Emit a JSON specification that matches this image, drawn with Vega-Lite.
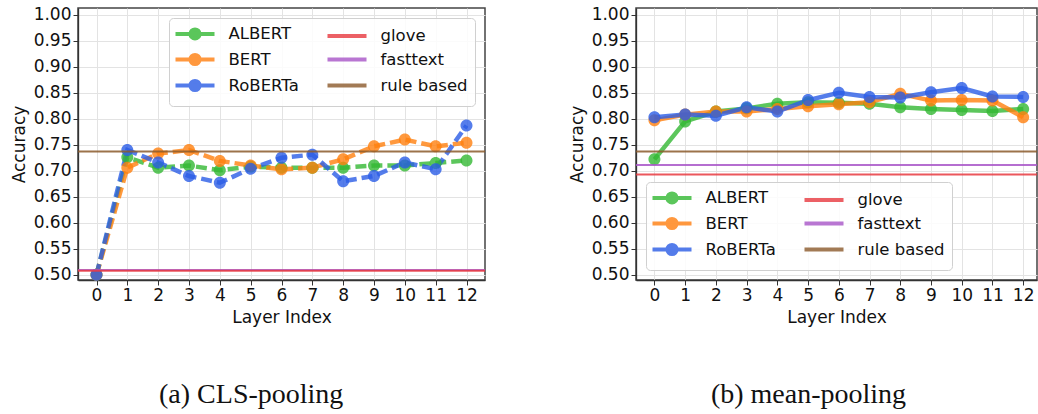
{
  "$schema": "https://vega.github.io/schema/vega-lite/v6.json",
  "padding": {"left": 9, "top": 5, "right": 0, "bottom": 0},
  "spacing": 74,
  "datasets": {
    "cls": [
      {"layer": 0, "model": "ALBERT", "acc": 0.500}, {"layer": 1, "model": "ALBERT", "acc": 0.726}, {"layer": 2, "model": "ALBERT", "acc": 0.706}, {"layer": 3, "model": "ALBERT", "acc": 0.710}, {"layer": 4, "model": "ALBERT", "acc": 0.701}, {"layer": 5, "model": "ALBERT", "acc": 0.708}, {"layer": 6, "model": "ALBERT", "acc": 0.706}, {"layer": 7, "model": "ALBERT", "acc": 0.706}, {"layer": 8, "model": "ALBERT", "acc": 0.706}, {"layer": 9, "model": "ALBERT", "acc": 0.710}, {"layer": 10, "model": "ALBERT", "acc": 0.710}, {"layer": 11, "model": "ALBERT", "acc": 0.715}, {"layer": 12, "model": "ALBERT", "acc": 0.720},
      {"layer": 0, "model": "BERT", "acc": 0.500}, {"layer": 1, "model": "BERT", "acc": 0.706}, {"layer": 2, "model": "BERT", "acc": 0.733}, {"layer": 3, "model": "BERT", "acc": 0.740}, {"layer": 4, "model": "BERT", "acc": 0.719}, {"layer": 5, "model": "BERT", "acc": 0.710}, {"layer": 6, "model": "BERT", "acc": 0.703}, {"layer": 7, "model": "BERT", "acc": 0.706}, {"layer": 8, "model": "BERT", "acc": 0.722}, {"layer": 9, "model": "BERT", "acc": 0.747}, {"layer": 10, "model": "BERT", "acc": 0.760}, {"layer": 11, "model": "BERT", "acc": 0.747}, {"layer": 12, "model": "BERT", "acc": 0.754},
      {"layer": 0, "model": "RoBERTa", "acc": 0.500}, {"layer": 1, "model": "RoBERTa", "acc": 0.740}, {"layer": 2, "model": "RoBERTa", "acc": 0.716}, {"layer": 3, "model": "RoBERTa", "acc": 0.690}, {"layer": 4, "model": "RoBERTa", "acc": 0.677}, {"layer": 5, "model": "RoBERTa", "acc": 0.704}, {"layer": 6, "model": "RoBERTa", "acc": 0.725}, {"layer": 7, "model": "RoBERTa", "acc": 0.731}, {"layer": 8, "model": "RoBERTa", "acc": 0.680}, {"layer": 9, "model": "RoBERTa", "acc": 0.690}, {"layer": 10, "model": "RoBERTa", "acc": 0.716}, {"layer": 11, "model": "RoBERTa", "acc": 0.703}, {"layer": 12, "model": "RoBERTa", "acc": 0.787}
    ],
    "mean": [
      {"layer": 0, "model": "ALBERT", "acc": 0.722}, {"layer": 1, "model": "ALBERT", "acc": 0.795}, {"layer": 2, "model": "ALBERT", "acc": 0.814}, {"layer": 3, "model": "ALBERT", "acc": 0.820}, {"layer": 4, "model": "ALBERT", "acc": 0.829}, {"layer": 5, "model": "ALBERT", "acc": 0.832}, {"layer": 6, "model": "ALBERT", "acc": 0.831}, {"layer": 7, "model": "ALBERT", "acc": 0.829}, {"layer": 8, "model": "ALBERT", "acc": 0.822}, {"layer": 9, "model": "ALBERT", "acc": 0.819}, {"layer": 10, "model": "ALBERT", "acc": 0.817}, {"layer": 11, "model": "ALBERT", "acc": 0.815}, {"layer": 12, "model": "ALBERT", "acc": 0.819},
      {"layer": 0, "model": "BERT", "acc": 0.797}, {"layer": 1, "model": "BERT", "acc": 0.808}, {"layer": 2, "model": "BERT", "acc": 0.814}, {"layer": 3, "model": "BERT", "acc": 0.814}, {"layer": 4, "model": "BERT", "acc": 0.819}, {"layer": 5, "model": "BERT", "acc": 0.824}, {"layer": 6, "model": "BERT", "acc": 0.828}, {"layer": 7, "model": "BERT", "acc": 0.832}, {"layer": 8, "model": "BERT", "acc": 0.848}, {"layer": 9, "model": "BERT", "acc": 0.835}, {"layer": 10, "model": "BERT", "acc": 0.836}, {"layer": 11, "model": "BERT", "acc": 0.835}, {"layer": 12, "model": "BERT", "acc": 0.803},
      {"layer": 0, "model": "RoBERTa", "acc": 0.803}, {"layer": 1, "model": "RoBERTa", "acc": 0.808}, {"layer": 2, "model": "RoBERTa", "acc": 0.806}, {"layer": 3, "model": "RoBERTa", "acc": 0.822}, {"layer": 4, "model": "RoBERTa", "acc": 0.814}, {"layer": 5, "model": "RoBERTa", "acc": 0.836}, {"layer": 6, "model": "RoBERTa", "acc": 0.850}, {"layer": 7, "model": "RoBERTa", "acc": 0.842}, {"layer": 8, "model": "RoBERTa", "acc": 0.841}, {"layer": 9, "model": "RoBERTa", "acc": 0.851}, {"layer": 10, "model": "RoBERTa", "acc": 0.859}, {"layer": 11, "model": "RoBERTa", "acc": 0.843}, {"layer": 12, "model": "RoBERTa", "acc": 0.842}
    ],
    "baseCls": [
      {"model": "fasttext", "acc": 0.509}, {"model": "glove", "acc": 0.508}, {"model": "rule based", "acc": 0.737}
    ],
    "baseMean": [
      {"model": "fasttext", "acc": 0.711}, {"model": "glove", "acc": 0.693}, {"model": "rule based", "acc": 0.737}
    ]
  },
  "config": {
    "font": "DejaVu Sans",
    "view": {"stroke": "#444", "strokeWidth": 1.5},
    "axis": {
      "labelFont": "DejaVu Sans", "labelFontSize": 17, "labelColor": "#111",
      "titleFont": "DejaVu Sans", "titleFontSize": 17, "titleFontWeight": "normal", "titleColor": "#111",
      "domainColor": "#333", "domainWidth": 1.3, "tickColor": "#333", "tickSize": 5, "tickWidth": 1,
      "labelPadding": 2, "gridColor": "#e3e3e3", "gridWidth": 1, "labelOverlap": false, "labelFlush": false
    },
    "axisY": {"titlePadding": 5},
    "axisX": {"titlePadding": 6},
    "legend": {
      "title": null, "columns": 2, "offset": 10,
      "symbolSize": 169, "symbolStrokeWidth": 4, "symbolOffset": 10.5, "labelOffset": 25,
      "labelFont": "DejaVu Sans", "labelFontSize": 16.5, "labelColor": "#111",
      "padding": 7, "rowPadding": -1, "columnPadding": 20,
      "fillColor": "rgba(255,255,255,0.85)", "strokeColor": "#d0d0d0", "cornerRadius": 4
    },
    "title": {"font": "Liberation Serif", "fontSize": 28, "fontWeight": "normal", "color": "#111"}
  },
  "resolve": {"scale": {"color": "independent", "shape": "independent"}, "legend": {"color": "independent", "shape": "independent"}},
  "hconcat": [
    {
      "width": 407, "height": 272,
      "title": {"text": "(a) CLS-pooling", "orient": "bottom", "anchor": "middle", "frame": "bounds", "offset": 56},
      "layer": [
        {
          "data": {"name": "cls"},
          "mark": {"type": "line", "strokeWidth": 4.5, "strokeDash": [11, 5], "opacity": 0.8},
          "encoding": {
            "x": {"field": "layer", "type": "quantitative", "title": "Layer Index", "scale": {"domain": [-0.6, 12.6], "nice": false, "zero": false}, "axis": {"values": [0,1,2,3,4,5,6,7,8,9,10,11,12], "format": "d", "labelOverlap": false}},
            "y": {"field": "acc", "type": "quantitative", "title": "Accuracy", "scale": {"domain": [0.49, 1.013], "nice": false, "zero": false}, "axis": {"values": [0.5,0.55,0.6,0.65,0.7,0.75,0.8,0.85,0.9,0.95,1.0], "format": ".2f", "labelOverlap": false}},
            "color": {
              "field": "model", "type": "nominal",
              "scale": {"domain": ["ALBERT", "BERT", "RoBERTa", "glove", "fasttext", "rule based"], "range": ["#33b833", "#ff7f0e", "#2a5ce6", "#e8393f", "#a855c8", "#8b5a2b"]},
              "legend": {"orient": "top-right", "title": null}
            }
          }
        },
        {
          "data": {"name": "cls"},
          "mark": {"type": "point", "filled": true, "size": 294, "opacity": 0.8},
          "encoding": {
            "x": {"field": "layer", "type": "quantitative", "axis": {"values": [0,1,2,3,4,5,6,7,8,9,10,11,12], "format": "d", "labelOverlap": false}},
            "y": {"field": "acc", "type": "quantitative", "axis": {"values": [0.5,0.55,0.6,0.65,0.7,0.75,0.8,0.85,0.9,0.95,1.0], "format": ".2f", "labelOverlap": false}},
            "color": {"field": "model", "type": "nominal", "legend": {"orient": "top-right", "title": null}},
            "shape": {
              "field": "model", "type": "nominal",
              "scale": {"domain": ["ALBERT", "BERT", "RoBERTa", "glove", "fasttext", "rule based"], "range": ["M-3,0L3,0M-0.7,0A0.7,0.7,0,1,1,0.7,0A0.7,0.7,0,1,1,-0.7,0Z", "M-3,0L3,0M-0.7,0A0.7,0.7,0,1,1,0.7,0A0.7,0.7,0,1,1,-0.7,0Z", "M-3,0L3,0M-0.7,0A0.7,0.7,0,1,1,0.7,0A0.7,0.7,0,1,1,-0.7,0Z", "M-3,0L3,0", "M-3,0L3,0", "M-3,0L3,0"]},
              "legend": {"orient": "top-right", "title": null}
            }
          }
        },
        {
          "data": {"name": "baseCls"},
          "mark": {"type": "rule", "strokeWidth": 2, "opacity": 0.85},
          "encoding": {
            "y": {"field": "acc", "type": "quantitative", "axis": {"values": [0.5,0.55,0.6,0.65,0.7,0.75,0.8,0.85,0.9,0.95,1.0], "format": ".2f", "labelOverlap": false}},
            "color": {"field": "model", "type": "nominal", "legend": {"orient": "top-right", "title": null}}
          }
        }
      ]
    },
    {
      "width": 401, "height": 272,
      "title": {"text": "(b) mean-pooling", "orient": "bottom", "anchor": "middle", "frame": "bounds", "offset": 56},
      "layer": [
        {
          "data": {"name": "mean"},
          "mark": {"type": "line", "strokeWidth": 4.5, "opacity": 0.8},
          "encoding": {
            "x": {"field": "layer", "type": "quantitative", "title": "Layer Index", "scale": {"domain": [-0.6, 12.45], "nice": false, "zero": false}, "axis": {"values": [0,1,2,3,4,5,6,7,8,9,10,11,12], "format": "d", "labelOverlap": false}},
            "y": {"field": "acc", "type": "quantitative", "title": "Accuracy", "scale": {"domain": [0.49, 1.013], "nice": false, "zero": false}, "axis": {"values": [0.5,0.55,0.6,0.65,0.7,0.75,0.8,0.85,0.9,0.95,1.0], "format": ".2f", "labelOverlap": false}},
            "color": {
              "field": "model", "type": "nominal",
              "scale": {"domain": ["ALBERT", "BERT", "RoBERTa", "glove", "fasttext", "rule based"], "range": ["#33b833", "#ff7f0e", "#2a5ce6", "#e8393f", "#a855c8", "#8b5a2b"]},
              "legend": {"orient": "bottom-left", "title": null}
            }
          }
        },
        {
          "data": {"name": "mean"},
          "mark": {"type": "point", "filled": true, "size": 294, "opacity": 0.8},
          "encoding": {
            "x": {"field": "layer", "type": "quantitative", "axis": {"values": [0,1,2,3,4,5,6,7,8,9,10,11,12], "format": "d", "labelOverlap": false}},
            "y": {"field": "acc", "type": "quantitative", "axis": {"values": [0.5,0.55,0.6,0.65,0.7,0.75,0.8,0.85,0.9,0.95,1.0], "format": ".2f", "labelOverlap": false}},
            "color": {"field": "model", "type": "nominal", "legend": {"orient": "bottom-left", "title": null}},
            "shape": {
              "field": "model", "type": "nominal",
              "scale": {"domain": ["ALBERT", "BERT", "RoBERTa", "glove", "fasttext", "rule based"], "range": ["M-3,0L3,0M-0.7,0A0.7,0.7,0,1,1,0.7,0A0.7,0.7,0,1,1,-0.7,0Z", "M-3,0L3,0M-0.7,0A0.7,0.7,0,1,1,0.7,0A0.7,0.7,0,1,1,-0.7,0Z", "M-3,0L3,0M-0.7,0A0.7,0.7,0,1,1,0.7,0A0.7,0.7,0,1,1,-0.7,0Z", "M-3,0L3,0", "M-3,0L3,0", "M-3,0L3,0"]},
              "legend": {"orient": "bottom-left", "title": null}
            }
          }
        },
        {
          "data": {"name": "baseMean"},
          "mark": {"type": "rule", "strokeWidth": 2, "opacity": 0.85},
          "encoding": {
            "y": {"field": "acc", "type": "quantitative", "axis": {"values": [0.5,0.55,0.6,0.65,0.7,0.75,0.8,0.85,0.9,0.95,1.0], "format": ".2f", "labelOverlap": false}},
            "color": {"field": "model", "type": "nominal", "legend": {"orient": "bottom-left", "title": null}}
          }
        }
      ]
    }
  ]
}
